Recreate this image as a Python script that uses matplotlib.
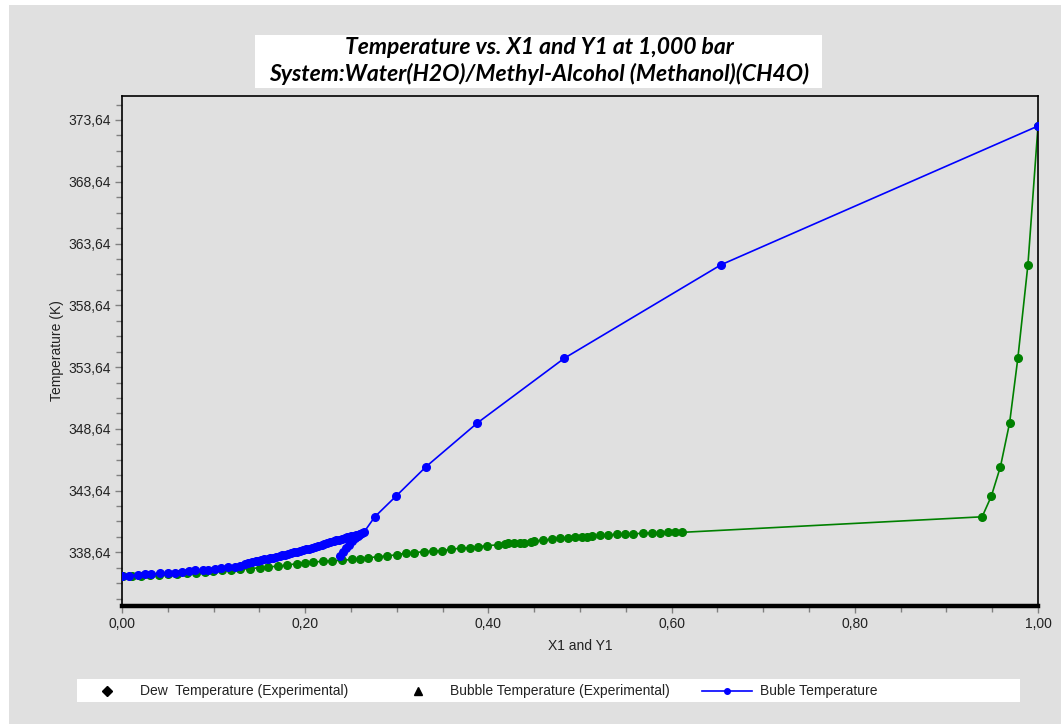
import matplotlib.pyplot as plt
import numpy as np
from matplotlib.patches import Rectangle
from matplotlib.ticker import FixedLocator, FuncFormatter

# ---- data ----
# Buble temperature: liquid mole fraction x1 (water) vs T (K)
bub_x = [0.000, 0.008, 0.018, 0.025, 0.032, 0.041, 0.050, 0.058, 0.066, 0.073,
         0.080, 0.088, 0.094, 0.101, 0.108, 0.116, 0.123, 0.129, 0.134, 0.138,
         0.142, 0.146, 0.149, 0.152, 0.155, 0.159, 0.162, 0.165, 0.168, 0.172,
         0.175, 0.178, 0.181, 0.185, 0.188, 0.191, 0.194, 0.198, 0.201, 0.204,
         0.207, 0.211, 0.214, 0.218, 0.221, 0.224, 0.227, 0.231, 0.234, 0.237,
         0.240, 0.243, 0.246, 0.250, 0.253, 0.256, 0.260,
         0.238, 0.241, 0.245, 0.248, 0.251, 0.254,
         0.258, 0.260, 0.262, 0.264, 0.276, 0.299, 0.332, 0.388, 0.483, 0.654,
         1.000]
bub_t = [336.72, 336.73, 336.84, 336.85, 336.86, 336.97, 336.98, 336.99, 337.08, 337.10,
         337.19, 337.20, 337.24, 337.32, 337.35, 337.43, 337.46, 337.53, 337.67, 337.77,
         337.86, 337.91, 337.95, 338.01, 338.07, 338.12, 338.17, 338.22, 338.28, 338.34,
         338.40, 338.45, 338.50, 338.57, 338.64, 338.70, 338.76, 338.82, 338.88, 338.95,
         339.02, 339.10, 339.17, 339.23, 339.29, 339.37, 339.45, 339.53, 339.61, 339.67,
         339.73, 339.80, 339.86, 339.93, 340.00, 340.06, 340.12,
         338.32, 338.64, 338.96, 339.25, 339.53, 339.77,
         339.93, 340.09, 340.18, 340.26, 341.52, 343.18, 345.58, 349.12, 354.36, 361.92,
         373.15]

# Dew temperature: vapour mole fraction y1 (water) vs T (K)
dew_x = [0.001, 0.011, 0.021, 0.031, 0.040, 0.050, 0.060, 0.071, 0.081, 0.091,
         0.099, 0.109, 0.119, 0.129, 0.140, 0.151, 0.159, 0.170, 0.180, 0.191,
         0.200, 0.209, 0.219, 0.229, 0.240, 0.251, 0.260, 0.269, 0.280, 0.289,
         0.300, 0.310, 0.319, 0.330, 0.340, 0.349, 0.359, 0.370, 0.380, 0.389,
         0.399, 0.411, 0.418, 0.421, 0.428, 0.435, 0.439, 0.447, 0.450, 0.460,
         0.469, 0.478, 0.487, 0.495, 0.502, 0.508, 0.513, 0.522, 0.531, 0.540,
         0.549, 0.558, 0.569, 0.579, 0.587, 0.596, 0.604, 0.611, 0.939, 0.949,
         0.959, 0.969, 0.978, 0.989, 1.000]
dew_t = [336.70, 336.73, 336.76, 336.78, 336.82, 336.86, 336.90, 336.94, 337.00, 337.05,
         337.13, 337.21, 337.24, 337.27, 337.33, 337.40, 337.45, 337.53, 337.61, 337.73,
         337.81, 337.86, 337.91, 337.97, 337.99, 338.07, 338.13, 338.21, 338.29, 338.35,
         338.45, 338.58, 338.62, 338.70, 338.75, 338.78, 338.88, 338.99, 339.02, 339.10,
         339.19, 339.25, 339.34, 339.37, 339.42, 339.42, 339.43, 339.50, 339.53, 339.65,
         339.69, 339.80, 339.81, 339.88, 339.91, 339.92, 339.93, 340.01, 340.04, 340.12,
         340.13, 340.15, 340.18, 340.23, 340.24, 340.25, 340.25, 340.26, 341.52, 343.18,
         345.58, 349.12, 354.36, 361.92, 373.15]

yticks = [338.64, 343.64, 348.64, 353.64, 358.64, 363.64, 368.64, 373.64]
xticks = [0.0, 0.2, 0.4, 0.6, 0.8, 1.0]

title1 = "Temperature vs. X1 and Y1 at 1,000 bar"
title2 = "System:Water(H2O)/Methyl-Alcohol (Methanol)(CH4O)"
legend_labels = ["Dew  Temperature (Experimental)", "Bubble Temperature (Experimental)", "Buble Temperature"]

W, H = 1061, 724
grey = '#e0e0e0'
plt.rcParams['font.family'] = ['Liberation Sans', 'DejaVu Sans']

fig = plt.figure(figsize=(W / 100, H / 100), dpi=100)
fig.patch.set_facecolor('white')
fig.add_artist(Rectangle((9 / W, 0), 1 - 9 / W, 1 - 5 / H, transform=fig.transFigure,
                         facecolor=grey, edgecolor='none', zorder=0))

# ---- main axes ----
ax = fig.add_axes([122 / W, 1 - 606 / H, (1038 - 122) / W, (606 - 96) / H])
ax.set_facecolor(grey)
ax.plot(dew_x, dew_t, color='#008000', marker='o', ms=5.5, lw=1.2, zorder=2)
ax.plot(bub_x, bub_t, color='#0000ff', marker='o', ms=5.5, lw=1.2, zorder=3)

ax.set_xlim(0, 1)
ax.set_ylim(334.30, 375.58)
ax.xaxis.set_major_locator(FixedLocator(xticks))
ax.xaxis.set_minor_locator(FixedLocator(np.arange(0, 1.001, 0.05)))
ax.yaxis.set_major_locator(FixedLocator(yticks))
ax.yaxis.set_minor_locator(FixedLocator(np.arange(334.89, 375.5, 1.25)))
ax.xaxis.set_major_formatter(FuncFormatter(lambda v, p: f"{v:.2f}".replace('.', ',')))
ax.yaxis.set_major_formatter(FuncFormatter(lambda v, p: f"{v:.2f}".replace('.', ',')))
ax.tick_params(which='both', direction='out', color='#808080', labelsize=10, labelcolor='#222222')
ax.tick_params(which='major', length=5, width=1, pad=3)
ax.tick_params(which='minor', length=4, width=1)
for s in ['top', 'right', 'left']:
    ax.spines[s].set_linewidth(1.2)
    ax.spines[s].set_color('black')
ax.spines['bottom'].set_linewidth(3.2)
ax.spines['bottom'].set_color('black')

ax.set_xlabel("X1 and Y1", fontsize=10, color='#222222', labelpad=6)
ax.set_ylabel("Temperature (K)", fontsize=10, color='#222222', labelpad=3)

# ---- title box ----
fig.add_artist(Rectangle((255 / W, 1 - 88 / H), (822 - 255) / W, 53 / H, transform=fig.transFigure,
                         facecolor='white', edgecolor='none', zorder=1))
tfont = dict(family=['Lato', 'DejaVu Sans'], style='italic', weight='bold', fontsize=16.5)
fig.text(539 / W, 1 - 48 / H, title1, ha='center', va='center', zorder=2, **tfont)
fig.text(539 / W, 1 - 74 / H, title2, ha='center', va='center', zorder=2, **tfont)

# ---- legend strip ----
lax = fig.add_axes([77 / W, 1 - 702 / H, (1020 - 77) / W, 23 / H])
lax.set_facecolor('white')
lax.set_xlim(77, 1020)
lax.set_ylim(0, 1)
lax.set_xticks([])
lax.set_yticks([])
for s in lax.spines.values():
    s.set_visible(False)
lax.plot([107], [0.5], marker='D', ms=5, color='black', ls='none')
lax.plot([418], [0.5], marker='^', ms=6, color='black', ls='none')
lax.plot([702, 752], [0.5, 0.5], color='#0000ff', lw=1.2)
lax.plot([727], [0.5], marker='o', ms=4, color='#0000ff')
lax.text(140, 0.5, legend_labels[0], va='center', ha='left', fontsize=10, color='#222222')
lax.text(450, 0.5, legend_labels[1], va='center', ha='left', fontsize=10, color='#222222')
lax.text(760, 0.5, legend_labels[2], va='center', ha='left', fontsize=10, color='#222222')

fig.savefig('out.png', dpi=100)
